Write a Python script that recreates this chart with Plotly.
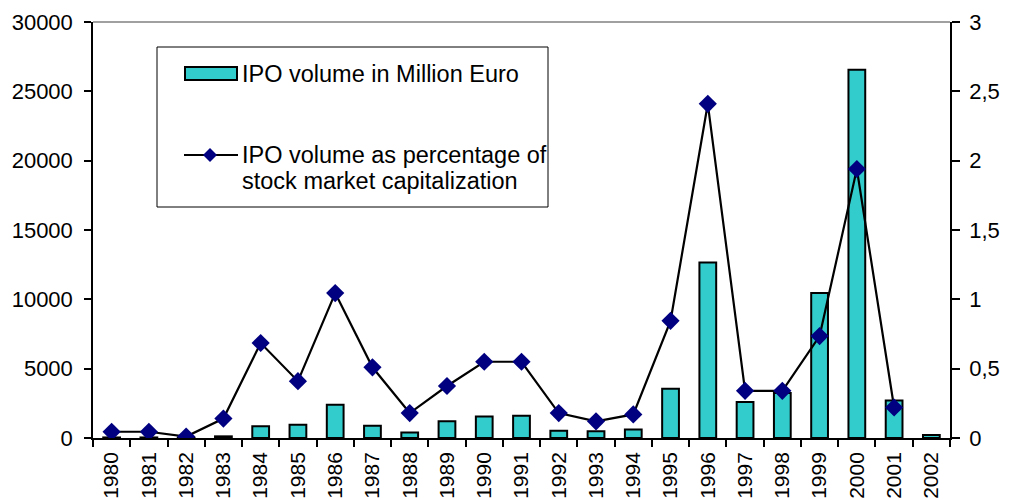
import plotly.graph_objects as go

years = [str(y) for y in range(1980, 2003)]
ipo_volume = [40, 40, 20, 120, 850, 950, 2400, 880, 400, 1200, 1550, 1600,
              520, 480, 620, 3550, 12650, 2600, 3250, 10450, 26550, 2700, 220]
ipo_pct = [0.045, 0.045, 0.01, 0.14, 0.685, 0.41, 1.045, 0.51, 0.18, 0.375, 0.55, 0.55,
           0.18, 0.12, 0.17, 0.845, 2.41, 0.34, 0.34, 0.735, 1.94, 0.22, None]
left_ticks = [0, 5000, 10000, 15000, 20000, 25000, 30000]
right_ticks = [0, 0.5, 1, 1.5, 2, 2.5, 3]
right_tick_text = ["0", "0,5", "1", "1,5", "2", "2,5", "3"]
bar_name = "IPO volume in Million Euro"
line_name_lines = ["IPO volume as percentage of", "stock market capitalization"]

# page has an 8px body margin; figure sized so it ends at the window edge
OFF = 8
W, H = 1010 - OFF, 500 - OFF
# plot area in page pixels
L, R, T, B = 93, 950, 22, 438
FONT = "Liberation Sans, Arial, sans-serif"
CYAN = "#33CCCC"
NAVY = "#000080"


def px(x):
    return (x - L) / (R - L)


def py(y):
    return (B - y) / (B - T)


fig = go.Figure()
fig.add_trace(go.Bar(
    x=years, y=ipo_volume, name=bar_name, width=0.45,
    marker=dict(color=CYAN, line=dict(color="black", width=2)),
    yaxis="y", showlegend=False,
))
fig.add_trace(go.Scatter(
    x=years, y=ipo_pct, name=" ".join(line_name_lines), mode="lines+markers",
    line=dict(color="black", width=2.2),
    marker=dict(symbol="diamond", size=14, color=NAVY, line=dict(width=0)),
    yaxis="y2", showlegend=False, connectgaps=False,
))

shapes = []
# top border of plot area
shapes.append(dict(type="line", xref="paper", yref="paper", x0=0, x1=1, y0=1, y1=1,
                   line=dict(color="#808080", width=1.5)))
# legend box
shapes.append(dict(type="rect", xref="paper", yref="paper",
                   x0=px(157), x1=px(548), y0=py(207), y1=py(47),
                   line=dict(color="black", width=1), fillcolor="white", layer="above"))
# bar swatch
shapes.append(dict(type="rect", xref="paper", yref="paper",
                   x0=px(185), x1=px(237), y0=py(80), y1=py(67),
                   line=dict(color="black", width=2), fillcolor=CYAN, layer="above"))
# line swatch
shapes.append(dict(type="line", xref="paper", yref="paper",
                   x0=px(184), x1=px(238), y0=py(155), y1=py(155),
                   line=dict(color="black", width=2), layer="above"))
cx, cy, d = 210, 155, 7
path = "M {},{} L {},{} L {},{} L {},{} Z".format(
    px(cx - d), py(cy), px(cx), py(cy - d), px(cx + d), py(cy), px(cx), py(cy + d))
shapes.append(dict(type="path", xref="paper", yref="paper", path=path,
                   fillcolor=NAVY, line=dict(color=NAVY, width=0), layer="above"))

LEG_FONT = dict(family=FONT, size=23.5, color="black")
annotations = [
    dict(text=bar_name, xref="paper", yref="paper", x=px(240), y=py(74),
         xanchor="left", yanchor="middle", showarrow=False, font=LEG_FONT),
    dict(text=line_name_lines[0], xref="paper", yref="paper", x=px(240), y=py(155),
         xanchor="left", yanchor="middle", showarrow=False, font=LEG_FONT),
    dict(text=line_name_lines[1], xref="paper", yref="paper", x=px(240), y=py(181),
         xanchor="left", yanchor="middle", showarrow=False, font=LEG_FONT),
]

fig.update_layout(
    width=W, height=H,
    margin=dict(l=L - OFF, r=1010 - R, t=T - OFF, b=500 - B, pad=0),
    paper_bgcolor="white", plot_bgcolor="white",
    font=dict(family=FONT, size=22, color="black"),
    bargap=0.55,
    shapes=shapes, annotations=annotations,
    xaxis=dict(
        type="category", range=[-0.5, len(years) - 0.5],
        showline=True, linecolor="black", linewidth=1.5,
        ticks="outside", ticklen=7, tickcolor="black", tickwidth=1.5,
        tickson="boundaries", tickangle=-90, showgrid=False, zeroline=False,
        tickfont=dict(family=FONT, size=21), automargin=False,
        ticklabelstandoff=4,
    ),
    yaxis=dict(
        range=[0, 30000], tickvals=left_ticks, tickformat="d",
        showline=True, linecolor="black", linewidth=1.5,
        ticks="outside", ticklen=7, tickcolor="black", tickwidth=1.5,
        showgrid=False, zeroline=False, automargin=False,
        tickfont=dict(family=FONT, size=22), ticklabelstandoff=7,
    ),
    yaxis2=dict(
        range=[0, 3], tickvals=right_ticks, ticktext=right_tick_text,
        overlaying="y", side="right",
        showline=True, linecolor="black", linewidth=1.5,
        ticks="outside", ticklen=8, tickcolor="black", tickwidth=1.5,
        showgrid=False, zeroline=False, automargin=False,
        tickfont=dict(family=FONT, size=22), ticklabelstandoff=5,
    ),
)

fig.write_html("out.html")
